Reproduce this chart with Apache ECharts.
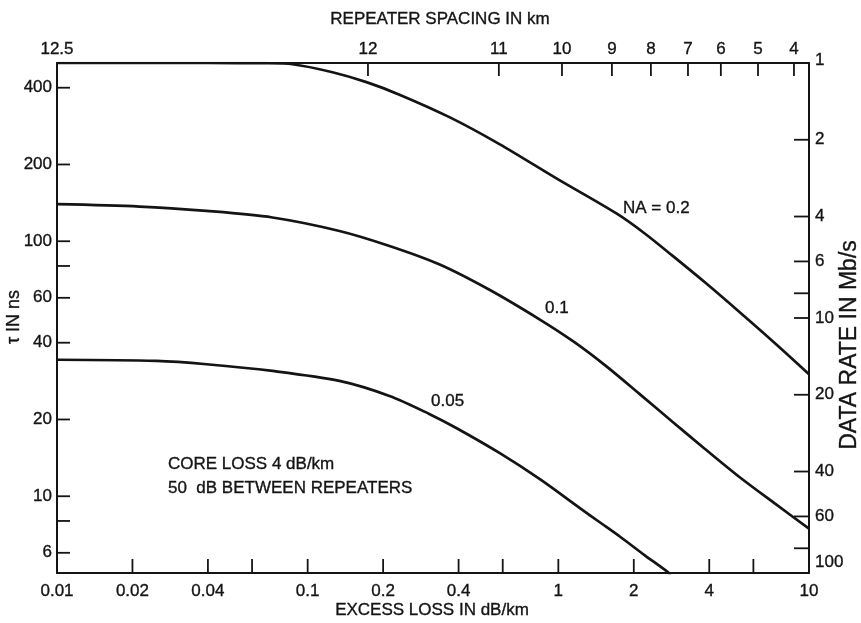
<!DOCTYPE html>
<html><head><meta charset="utf-8">
<script src="https://cdn.jsdelivr.net/npm/echarts@6/dist/echarts.min.js"></script>
<style>html,body{margin:0;padding:0;background:#fff}#c{width:861px;height:623px}</style>
</head><body><div id="c"></div>
<script>
// ---- data (excess loss in dB/km, tau in ns) ----
const lossNA02 = [0.01, 0.04, 0.0673, 0.087, 0.1256, 0.1716, 0.2324, 0.3678, 0.5821, 0.9826, 1.705, 2.205, 2.852, 3.863, 5.278, 7.278, 10];
const tauNA02  = [500, 500, 499, 494.4, 459.9, 420.6, 375.7, 306.6, 240.4, 176.4, 128.5, 107.5, 87.8, 68.7, 52.8, 40.0, 30.1];
const lossNA01 = [0.01, 0.02134, 0.03947, 0.07238, 0.1339, 0.212, 0.3346, 0.5311, 0.8407, 1.159, 1.556, 2.106, 2.852, 3.826, 5.278, 7.278, 10];
const tauNA01  = [139.7, 136.8, 131.5, 123.9, 109.7, 95.8, 81.2, 64.5, 49.4, 40.2, 32.3, 25.2, 19.6, 15.4, 11.9, 9.39, 7.46];
const lossNA005 = [0.01, 0.02493, 0.03947, 0.07238, 0.1339, 0.212, 0.3055, 0.3916, 0.5865, 0.8469, 1.223, 1.472, 1.769, 2.206, 2.749, 2.80];
const tauNA005  = [34.29, 33.92, 32.93, 31.0, 28.33, 24.73, 21.03, 18.52, 14.72, 11.64, 8.96, 7.87, 6.92, 5.88, 5.02, 4.9];

const bottomTicks  = [0.02, 0.04, 0.06, 0.1, 0.2, 0.4, 0.6, 1, 2, 4, 6];
const bottomLabels = [0.01, 0.02, 0.04, 0.1, 0.2, 0.4, 1, 2, 4, 10];
const leftTicks    = [6, 8, 10, 20, 40, 60, 80, 100, 200, 400];
const leftLabels   = [6, 10, 20, 40, 60, 100, 200, 400];
const rightTicks   = [2, 4, 6, 8, 10, 20, 40, 60, 80];
const rightLabels  = [1, 2, 4, 6, 10, 20, 40, 60, 100];
const topLabels    = ['12.5', '12', '11', '10', '9', '8', '7', '6', '5', '4'];
const topAtLoss    = [0.01, 0.174, 0.579, 1.034, 1.636, 2.34, 3.29, 4.45, 6.26, 8.71];
const topHasTick   = [false, true, true, true, true, true, true, true, true, true];

// ---- chart ----
const FONT = '"Liberation Sans", Arial, Helvetica, sans-serif';
const INK = '#141414';
const FS = 17;
const X_MIN = 0.01, X_MAX = 10, Y_MIN = 5, Y_MAX = 500, R_MIN = 1, R_MAX = 100;

function txt(text, x, y, align, vAlign, size) {
  return { type: 'text', x: x, y: y, silent: true,
    style: { text: text, fontSize: size || FS, fontFamily: FONT, fill: INK, stroke: INK, lineWidth: 0.35,
      align: align || 'center', verticalAlign: vAlign || 'middle' } };
}
function seg(x1, y1, x2, y2) {
  return { type: 'line', silent: true, shape: { x1: x1, y1: y1, x2: x2, y2: y2 }, style: { stroke: INK, lineWidth: 1.8 } };
}
function marks(xi, yi, data, draw) {
  return { type: 'custom', xAxisIndex: xi, yAxisIndex: yi, silent: true, clip: false, z: 5, animation: false,
    data: data,
    renderItem: function (params, api) {
      const p = api.coord([api.value(0), api.value(1)]);
      return draw(p, params.dataIndex);
    } };
}
function curve(loss, tau) {
  return { type: 'line', xAxisIndex: 0, yAxisIndex: 0, showSymbol: false, symbol: 'none', smooth: 0.3,
    silent: true, animation: false, z: 3,
    lineStyle: { color: INK, width: 2.7 },
    data: loss.map(function (x, i) { return [x, tau[i]]; }) };
}
const axisBase = {
  axisLine: { show: true, onZero: false, lineStyle: { color: INK, width: 2 } },
  axisTick: { show: false }, axisLabel: { show: false }, splitLine: { show: false }, minorTick: { show: false }
};

const chart = echarts.init(document.getElementById('c'), null, { renderer: 'canvas' });
chart.setOption({
  backgroundColor: '#ffffff',
  animation: false,
  grid: { left: 57, top: 63, width: 752, height: 510, containLabel: false },
  xAxis: [
    Object.assign({ type: 'log', logBase: 10, min: X_MIN, max: X_MAX, position: 'bottom' }, axisBase),
    Object.assign({ type: 'log', logBase: 10, min: X_MIN, max: X_MAX, position: 'top' }, axisBase)
  ],
  yAxis: [
    Object.assign({ type: 'log', logBase: 10, min: Y_MIN, max: Y_MAX, position: 'left' }, axisBase),
    Object.assign({ type: 'log', logBase: 10, min: R_MIN, max: R_MAX, inverse: true, position: 'right' }, axisBase)
  ],
  series: [
    curve(lossNA02, tauNA02),
    curve(lossNA01, tauNA01),
    curve(lossNA005, tauNA005),
    marks(0, 0, bottomTicks.map(function (v) { return [v, Y_MIN]; }),
      function (p) { return seg(p[0], p[1], p[0], p[1] - 14); }),
    marks(0, 0, bottomLabels.map(function (v) { return [v, Y_MIN]; }),
      function (p, i) { return txt(String(bottomLabels[i]), p[0], p[1] + 18); }),
    marks(0, 0, leftTicks.map(function (v) { return [X_MIN, v]; }),
      function (p) { return seg(p[0], p[1], p[0] + 13, p[1]); }),
    marks(0, 0, leftLabels.map(function (v) { return [X_MIN, v]; }),
      function (p, i) { return txt(String(leftLabels[i]), p[0] - 5, p[1], 'right'); }),
    marks(0, 1, rightTicks.map(function (v) { return [X_MAX, v]; }),
      function (p) { return seg(p[0], p[1], p[0] - 15, p[1]); }),
    marks(0, 1, rightLabels.map(function (v) { return [X_MAX, v]; }),
      function (p, i) {
        const last = i === rightLabels.length - 1;
        return txt(String(rightLabels[i]), p[0] + 6, last ? p[1] - 2 : (i === 0 ? p[1] - 3 : p[1]), 'left', last ? 'bottom' : 'middle');
      }),
    marks(0, 0, topAtLoss.map(function (v) { return [v, Y_MAX]; }),
      function (p, i) {
        const g = [txt(topLabels[i], p[0], p[1] - 14)];
        if (topHasTick[i]) g.push(seg(p[0], p[1], p[0], p[1] + 13));
        return { type: 'group', children: g };
      })
  ],
  graphic: [
    txt('REPEATER SPACING IN km', 440, 19),
    txt('EXCESS LOSS IN dB/km', 432, 610),
    Object.assign(txt('τ IN ns', 14, 317, 'center', 'middle', 18), { rotation: Math.PI / 2 }),
    Object.assign(txt('DATA RATE IN Mb/s', 850, 345, 'center', 'middle', 23), { rotation: Math.PI / 2 }),
    txt('NA = 0.2', 623, 208, 'left'),
    txt('0.1', 545, 308, 'left'),
    txt('0.05', 431, 401, 'left'),
    txt('CORE LOSS 4 dB/km', 168, 464, 'left'),
    txt('50  dB BETWEEN REPEATERS', 168, 488, 'left')
  ]
});
</script>
</body></html>
